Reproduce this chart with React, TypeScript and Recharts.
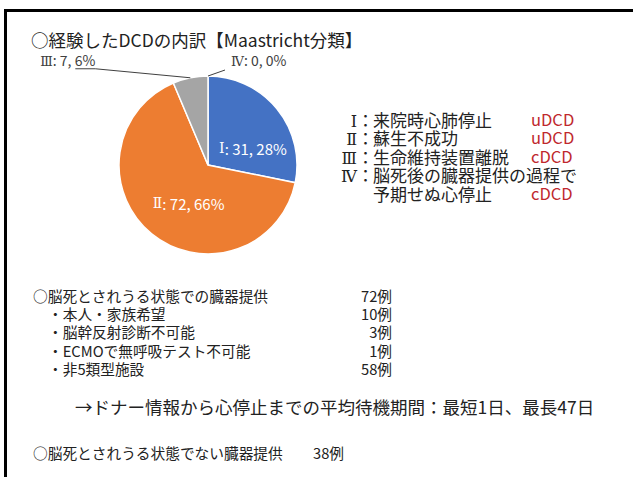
import { PieChart, Pie, Cell } from 'recharts';

// Maastricht分類ごとの症例数
const classNames = ['Ⅰ', 'Ⅱ', 'Ⅲ', 'Ⅳ'];
const classCounts = [31, 72, 7, 0];
const classPercents = ['28%', '66%', '6%', '0%'];
const classColors = ['#4472C4', '#ED7D31', '#A5A5A5', '#FFC000'];

// 凡例（右側）
const legendRoman = ['Ⅰ', 'Ⅱ', 'Ⅲ', 'Ⅳ', ''];
const legendDesc = ['来院時心肺停止', '蘇生不成功', '生命維持装置離脱', '脳死後の臓器提供の過程で', '予期せぬ心停止'];
const legendType = ['uDCD', 'uDCD', 'cDCD', '', 'cDCD'];

// 下段の内訳
const brainDeathItems = ['本人・家族希望', '脳幹反射診断不可能', 'ECMOで無呼吸テスト不可能', '非5類型施設'];
const brainDeathCounts = [10, 3, 1, 58];
const brainDeathTotal = 72;
const notBrainDeathTotal = 38;

const pieData = classNames.map((n, i) => ({ name: n, value: classCounts[i], pct: classPercents[i] }));

const FONT = '"Noto Sans CJK JP", "Noto Sans", sans-serif';
const ROMAN = '"DejaVu Serif", "Noto Sans CJK JP", serif';
const RAD = Math.PI / 180;

const renderLabel = (p: any) => {
  const { cx, cy, midAngle, outerRadius, index } = p;
  const d = pieData[index];
  const rest = `: ${d.value}, ${d.pct}`;
  const cos = Math.cos(-midAngle * RAD);
  const sin = Math.sin(-midAngle * RAD);
  if (index === 0 || index === 1) {
    const r = index === 0 ? outerRadius * 0.58 : outerRadius * 0.45;
    const x = cx + r * cos + (index === 0 ? 5 : 6);
    const y = cy + r * sin + (index === 0 ? 16 : 7);
    return (
      <text x={x} y={y} fill="#fff" fontSize={15} fontFamily={FONT} textAnchor="middle" dominantBaseline="central">
        <tspan fontFamily={ROMAN} fontSize={14}>{d.name}</tspan>
        {rest}
      </text>
    );
  }
  // 外側ラベル（引き出し線付き）
  const sx = cx + outerRadius * cos;
  const sy = cy + outerRadius * sin;
  if (index === 2) {
    const ex = sx - 95;
    const ey = sy - 9;
    return (
      <g>
        <polyline points={`${sx},${sy} ${ex},${ey} ${ex - 20},${ey}`} fill="none" stroke="#404040" strokeWidth={1} />
        <text x={ex} y={ey - 3} fill="#404040" fontSize={14} fontFamily={FONT} textAnchor="end">
          <tspan fontFamily={ROMAN} fontSize={13}>{d.name}</tspan>
          {rest}
        </text>
      </g>
    );
  }
  const ex = sx + 17;
  const ey = sy - 6;
  return (
    <g>
      <line x1={sx} y1={sy} x2={ex} y2={ey} stroke="#404040" strokeWidth={1} />
      <text x={ex + 6} y={ey - 4} fill="#404040" fontSize={14} fontFamily={FONT} textAnchor="start">
        <tspan fontFamily={ROMAN} fontSize={13}>{d.name}</tspan>
        {rest}
      </text>
    </g>
  );
};

const txt = (extra: any) => ({ position: 'absolute' as const, fontFamily: FONT, color: '#222', whiteSpace: 'nowrap' as const, lineHeight: 1, ...extra });

export default function App() {
  return (
    <div style={{ position: 'relative', width: 633, height: 477, background: '#fff', overflow: 'hidden' }}>
      <style>{`body{margin:0}`}</style>
      <div style={{ position: 'absolute', left: 4, top: 9, width: 700, height: 600, border: '3px solid #000', boxSizing: 'border-box' }} />
      <div style={txt({ left: 31, top: 31, fontSize: 17.5 })}>○経験したDCDの内訳【Maastricht分類】</div>

      <div style={{ position: 'absolute', left: 0, top: 0 }}>
        <PieChart width={633} height={477} margin={{ top: 0, right: 0, bottom: 0, left: 0 }}>
          <Pie
            data={pieData}
            dataKey="value"
            cx={208}
            cy={165}
            outerRadius={89}
            startAngle={90}
            endAngle={-270}
            stroke="#fff"
            strokeWidth={1.5}
            label={renderLabel}
            labelLine={false}
            isAnimationActive={false}
          >
            {pieData.map((d, i) => (
              <Cell key={d.name} fill={classColors[i]} />
            ))}
          </Pie>
        </PieChart>
      </div>

      {legendDesc.map((d, i) => (
        <div key={i} style={txt({ left: 340, top: 111 + i * 18.4, fontSize: 17 })}>
          <span style={{ display: 'inline-block', width: 17, textAlign: 'right', fontFamily: ROMAN, fontSize: 16 }}>{legendRoman[i]}</span>
          <span style={{ display: 'inline-block', width: 16 }}>{legendRoman[i] ? '：' : ''}</span>
          <span>{d}</span>
          {legendType[i] && (
            <span style={{ position: 'absolute', left: 191, top: 0, fontSize: 16.5, color: '#C0282D' }}>{legendType[i]}</span>
          )}
        </div>
      ))}

      <div style={txt({ left: 33, top: 289, fontSize: 14.7 })}>○脳死とされうる状態での臓器提供</div>
      <div style={txt({ left: 332, top: 289, fontSize: 14.7, width: 60, textAlign: 'right' })}>{brainDeathTotal}例</div>
      {brainDeathItems.map((it, i) => (
        <div key={it}>
          <div style={txt({ left: 48, top: 307 + i * 18.3, fontSize: 14.7 })}>・{it}</div>
          <div style={txt({ left: 332, top: 307 + i * 18.3, fontSize: 14.7, width: 60, textAlign: 'right' })}>{brainDeathCounts[i]}例</div>
        </div>
      ))}
      <div style={txt({ left: 75, top: 398, fontSize: 17.5 })}>→ドナー情報から心停止までの平均待機期間：最短1日、最長47日</div>
      <div style={txt({ left: 33, top: 446, fontSize: 14.7 })}>○脳死とされうる状態でない臓器提供</div>
      <div style={txt({ left: 313, top: 446, fontSize: 14.7 })}>{notBrainDeathTotal}例</div>
    </div>
  );
}
